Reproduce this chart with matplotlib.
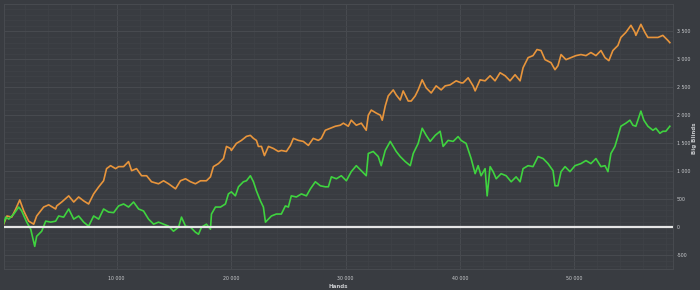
import numpy as np
import matplotlib
matplotlib.use("Agg")
import matplotlib.pyplot as plt
from matplotlib.ticker import MultipleLocator, FuncFormatter

# total winnings (orange), hands
total_hands = [0, 400, 820, 1170, 1520, 1870, 2300, 2740, 3000, 3610, 4050, 4660, 4750, 5190,
               5800, 6240, 6670, 7110, 7540, 7980, 8420, 8850, 9110, 9460, 9900, 10160, 10600,
               11030, 11300, 11730, 12170, 12610, 13040, 13650, 14090, 14530, 15140, 15570,
               16010, 16450, 16880, 17320, 17840, 18190, 18450, 18890, 19330, 19590, 19940,
               20020, 20460, 20900, 21340, 21680, 21950, 22210, 22380, 22650, 22910, 23260,
               23690, 24130, 24390, 24830, 25180, 25440, 25880, 26310, 26750, 27180, 27620,
               27880, 28230, 28670, 29110, 29540, 29810, 30240, 30500, 30940, 31380, 31810,
               31990, 32250, 32690, 33040, 33210, 33470, 33730, 34170, 34430, 34780, 35040,
               35480, 35740, 36090, 36350, 36700, 37050, 37490, 37920, 38360, 38710, 39140,
               39670, 40110, 40280, 40720, 41150, 41330, 41760, 42200, 42640, 43070, 43510,
               43950, 44380, 44820, 45260, 45520, 45960, 46390, 46740, 47090, 47440, 47960,
               48310, 48570, 48840, 49270, 49710, 50140, 50580, 51020, 51450, 51890, 52330,
               52680, 53020, 53370, 53810, 54070, 54510, 54950, 55300, 55380, 55820, 56170,
               56430, 56870, 57310, 57740, 58180, 58350]
total_bb = [0, 200, 180, 325, 487, 290, 108, 54, 200, 360, 400, 325, 380, 450,
            560, 450, 540, 470, 415, 595, 720, 830, 1047, 1100, 1047, 1083, 1083,
            1173, 1010, 1047, 920, 920, 812, 776, 830, 776, 686, 830,
            866, 812, 776, 830, 830, 900, 1083, 1137, 1227, 1444, 1408,
            1372, 1498, 1552, 1624, 1642, 1588, 1552, 1444, 1444, 1280, 1444,
            1408, 1354, 1372, 1354, 1462, 1588, 1552, 1534, 1462, 1588, 1552,
            1588, 1733, 1769, 1805, 1823, 1860, 1805, 1913, 1823, 1860, 1733,
            2003, 2094, 2040, 2003, 1913, 2166, 2347, 2455, 2365, 2274, 2437,
            2256, 2256, 2347, 2455, 2635, 2491, 2400, 2527, 2455, 2527, 2545,
            2617, 2581, 2581, 2672, 2527, 2437, 2635, 2617, 2708, 2617, 2762,
            2708, 2617, 2726, 2617, 2852, 3032, 3068, 3177, 3159, 2996, 2942,
            2816, 2888, 3087, 2996, 3032, 3068, 3087, 3068, 3123, 3068, 3159,
            3032, 2978, 3159, 3249, 3393, 3484, 3610, 3484, 3430, 3628, 3484,
            3393, 3393, 3393, 3430, 3340, 3300]

# second line (green)
green_hands = [0, 300, 560, 1000, 1430, 1690, 2130, 2480, 2830, 3000, 3440, 3790, 4230, 4660,
               4920, 5360, 5800, 6240, 6670, 7110, 7540, 7980, 8420, 8850, 9290, 9730, 10160,
               10600, 11030, 11470, 11910, 12340, 12780, 13220, 13650, 14090, 14530, 14960,
               15400, 15660, 16010, 16450, 16880, 17150, 17410, 17840, 18190, 18280, 18630,
               19070, 19500, 19760, 20020, 20370, 20640, 21070, 21340, 21680, 21950, 22210,
               22560, 22820, 23000, 23520, 23950, 24390, 24740, 25000, 25260, 25700, 26140,
               26580, 26930, 27360, 27800, 28230, 28500, 28760, 29200, 29630, 30070, 30500,
               30940, 31380, 31810, 31990, 32420, 32860, 33120, 33470, 33910, 34170, 34430,
               34780, 35220, 35660, 35920, 36350, 36700, 37050, 37400, 37840, 38270, 38530,
               38970, 39410, 39840, 40110, 40540, 40980, 41330, 41590, 41850, 42200, 42380,
               42640, 42900, 43170, 43600, 44040, 44480, 44910, 45260, 45520, 45960, 46390,
               46830, 47270, 47700, 48140, 48310, 48570, 48840, 49190, 49620, 50060, 50580,
               51020, 51450, 51890, 52330, 52680, 52940, 53200, 53550, 53810, 54070, 54510,
               54860, 55120, 55380, 55820, 56080, 56430, 56870, 57130, 57480, 57740, 58000,
               58350]
green_bb = [0, 180, 144, 235, 360, 290, 90, -36, -343, -162, -72, 108, 90, 108,
            200, 180, 325, 144, 200, 90, 18, 200, 144, 325, 270, 260, 380,
            415, 360, 450, 325, 290, 144, 54, 90, 54, 18, -72,
            0, 180, 18, 0, -90, -126, 0, 54, -36, 235, 360,
            360, 415, 595, 632, 560, 722, 812, 830, 920, 812, 650,
            470, 360, 90, 200, 235, 235, 380, 360, 560, 540, 595,
            560, 686, 812, 740, 722, 722, 900, 866, 920, 830, 993,
            1100, 1010, 920, 1318, 1354, 1263, 1100, 1372, 1534, 1444, 1354,
            1263, 1173, 1100, 1318, 1498, 1769, 1642, 1534, 1642, 1715, 1444,
            1552, 1534, 1620, 1550, 1498, 1227, 957, 1100, 920, 1047, 560,
            1083, 993, 866, 957, 920, 812, 900, 812, 1047, 1100, 1083,
            1263, 1227, 1137, 1010, 740, 740, 993, 1083, 993, 1100, 1137,
            1191, 1137, 1227, 1083, 1100, 993, 1318, 1444, 1624, 1805, 1860,
            1913, 1823, 1805, 2076, 1913, 1805, 1733, 1769, 1679, 1715, 1715,
            1805]

bg = "#393c41"
txt = "#c9cbce"

fig = plt.figure(figsize=(7, 2.9), dpi=100, facecolor=bg)
ax = fig.add_axes([0.005, 0.072, 0.956, 0.914], facecolor=bg)

ax.plot(total_hands, total_bb, color="#e8953c", lw=1.2, zorder=3)
ax.plot(green_hands, green_bb, color="#3fd33f", lw=1.2, zorder=3)
ax.axhline(0, color="#e6e6e6", lw=1.6, zorder=4)

ax.set_xlim(100, 58600)
ax.set_ylim(-750, 3990)

ax.xaxis.set_major_locator(MultipleLocator(10000))
ax.xaxis.set_minor_locator(MultipleLocator(2000))
ax.yaxis.set_major_locator(MultipleLocator(500))
ax.yaxis.set_minor_locator(MultipleLocator(100))
fmt = FuncFormatter(lambda v, p: f"{int(v):,}".replace(",", " "))
ax.xaxis.set_major_formatter(fmt)
ax.yaxis.set_major_formatter(fmt)

ax.grid(which="major", color="#474a4f", lw=0.8)
ax.grid(which="minor", color="#3f4247", lw=0.5)
ax.set_axisbelow(True)

ax.yaxis.tick_right()
ax.tick_params(which="both", length=0, colors=txt, labelsize=3.4)
ax.tick_params(axis="y", pad=3)
ax.tick_params(axis="x", pad=5)

for s in ax.spines.values():
    s.set_color("#474a4f")
    s.set_linewidth(0.8)

ax.set_xlabel("Hands", color=txt, fontsize=4.0, fontweight="bold", labelpad=2)
fig.text(0.9915, 0.524, "Big Blinds", color=txt, fontsize=4.0, fontweight="bold",
         rotation=90, ha="center", va="center")

fig.savefig("out.png", dpi=100, facecolor=bg)
